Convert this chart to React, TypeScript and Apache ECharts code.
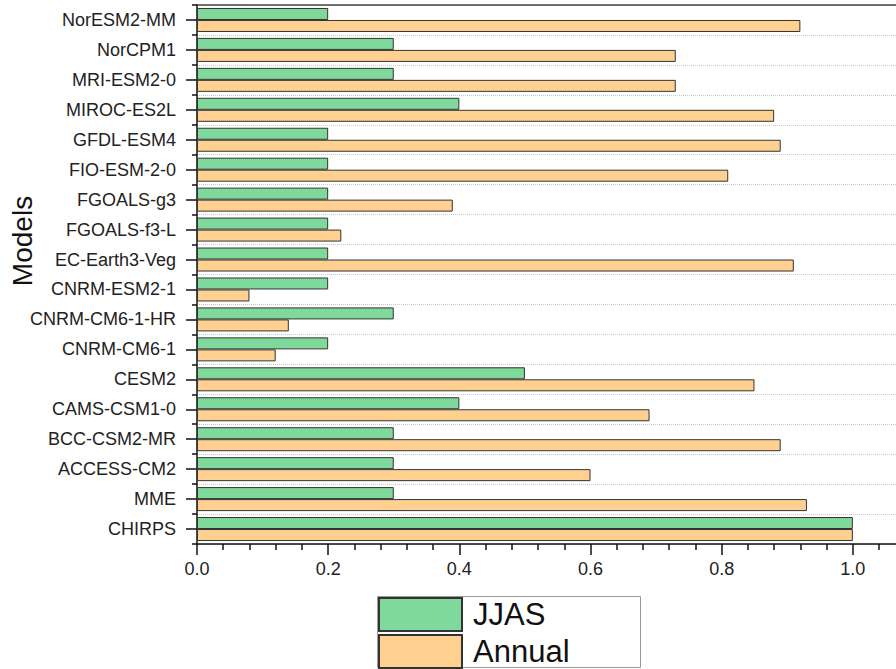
import React, { useEffect, useRef } from "react";
import * as echarts from "echarts";

const categories = [
  "CHIRPS", "MME", "ACCESS-CM2", "BCC-CSM2-MR", "CAMS-CSM1-0", "CESM2",
  "CNRM-CM6-1", "CNRM-CM6-1-HR", "CNRM-ESM2-1", "EC-Earth3-Veg", "FGOALS-f3-L",
  "FGOALS-g3", "FIO-ESM-2-0", "GFDL-ESM4", "MIROC-ES2L", "MRI-ESM2-0", "NorCPM1", "NorESM2-MM",
];
const jjas = [1.0, 0.3, 0.3, 0.3, 0.4, 0.5, 0.2, 0.3, 0.2, 0.2, 0.2, 0.2, 0.2, 0.2, 0.4, 0.3, 0.3, 0.2];
const annual = [1.0, 0.93, 0.6, 0.89, 0.69, 0.85, 0.12, 0.14, 0.08, 0.91, 0.22, 0.39, 0.81, 0.89, 0.88, 0.73, 0.73, 0.92];
const tickLabels = ["0.0", "0.2", "0.4", "0.6", "0.8", "1.0"];

const FONT = "Liberation Sans, Arial, sans-serif";
const GREEN = "#7ed99a";
const ORANGE = "#ffd08f";

const legendCommon = {
  orient: "vertical",
  left: 378,
  padding: 0,
  itemWidth: 83,
  itemHeight: 33,
  icon: "rect",
  textStyle: {
    fontSize: 31,
    color: "#111",
    fontFamily: FONT,
    padding: [0, 0, 0, 6],
  },
};

export default function App() {
  const ref = useRef<HTMLDivElement>(null);
  useEffect(() => {
    if (!ref.current) return;
    const chart = echarts.init(ref.current, undefined, { renderer: "svg" });
    chart.setOption({
      animation: false,
      backgroundColor: "#ffffff",
      textStyle: { fontFamily: FONT },
      grid: {
        left: 197,
        top: 5,
        width: 787,
        height: 539,
        containLabel: false,
        outerBoundsMode: "none",
      },
      legend: [
        { ...legendCommon, data: ["JJAS"], top: 597 },
        { ...legendCommon, data: ["Annual"], top: 634 },
      ],
      graphic: [
        {
          type: "rect",
          shape: { x: 377.5, y: 596.5, width: 263, height: 71 },
          style: { fill: "none", stroke: "#999", lineWidth: 1 },
          z: 1,
        },
        {
          type: "text",
          x: 22,
          y: 241,
          rotation: Math.PI / 2,
          style: {
            text: "Models",
            fontSize: 28,
            fontFamily: FONT,
            fill: "#111",
            align: "center",
            verticalAlign: "middle",
          },
        },
      ],
      xAxis: [
        {
          type: "value",
          min: 0,
          max: 1.2,
          interval: 0.2,
          position: "bottom",
          axisLine: { show: true, lineStyle: { color: "#111", width: 1.5 } },
          axisTick: { show: true, length: 11, lineStyle: { color: "#111", width: 1.5 } },
          minorTick: { show: true, splitNumber: 5, length: 6, lineStyle: { color: "#111", width: 1.5 } },
          axisLabel: {
            margin: 16,
            fontSize: 18,
            color: "#222",
            fontFamily: FONT,
            showMaxLabel: false,
            formatter: (v: number) => {
              const s = v.toFixed(1);
              return tickLabels.includes(s) ? s : "";
            },
          },
          splitLine: { show: false },
        },
        {
          type: "value",
          min: 0,
          max: 1.2,
          position: "top",
          axisLine: { show: true, onZero: false, lineStyle: { color: "#444", width: 1.5 } },
          axisTick: { show: false },
          axisLabel: { show: false },
          splitLine: { show: false },
        },
      ],
      yAxis: [
        {
          type: "category",
          data: categories,
          position: "left",
          axisLine: { show: true, lineStyle: { color: "#111", width: 1.5 } },
          axisTick: { show: true, alignWithLabel: true, length: 11, lineStyle: { color: "#111", width: 1.5 } },
          axisLabel: { margin: 21, fontSize: 18, color: "#222", fontFamily: FONT },
          splitLine: { show: false },
        },
        {
          type: "category",
          data: categories,
          position: "left",
          offset: 0,
          axisLine: { show: false },
          axisTick: { show: true, length: 5, lineStyle: { color: "#111", width: 1.5 } },
          axisLabel: { show: false },
          splitLine: { show: true, lineStyle: { type: "dotted", color: "#c8c8c8", width: 1 } },
        },
      ],
      series: [
        {
          name: "JJAS",
          type: "bar",
          data: jjas,
          barWidth: 12,
          barGap: "0%",
          itemStyle: { color: GREEN, borderColor: "#333", borderWidth: 1 },
        },
        {
          name: "Annual",
          type: "bar",
          data: annual,
          barWidth: 12,
          barGap: "0%",
          itemStyle: { color: ORANGE, borderColor: "#333", borderWidth: 1 },
        },
      ],
    });
    return () => chart.dispose();
  }, []);
  return (
    <div
      ref={ref}
      style={{ position: "fixed", left: 0, top: 0, width: 896, height: 669 }}
    />
  );
}
